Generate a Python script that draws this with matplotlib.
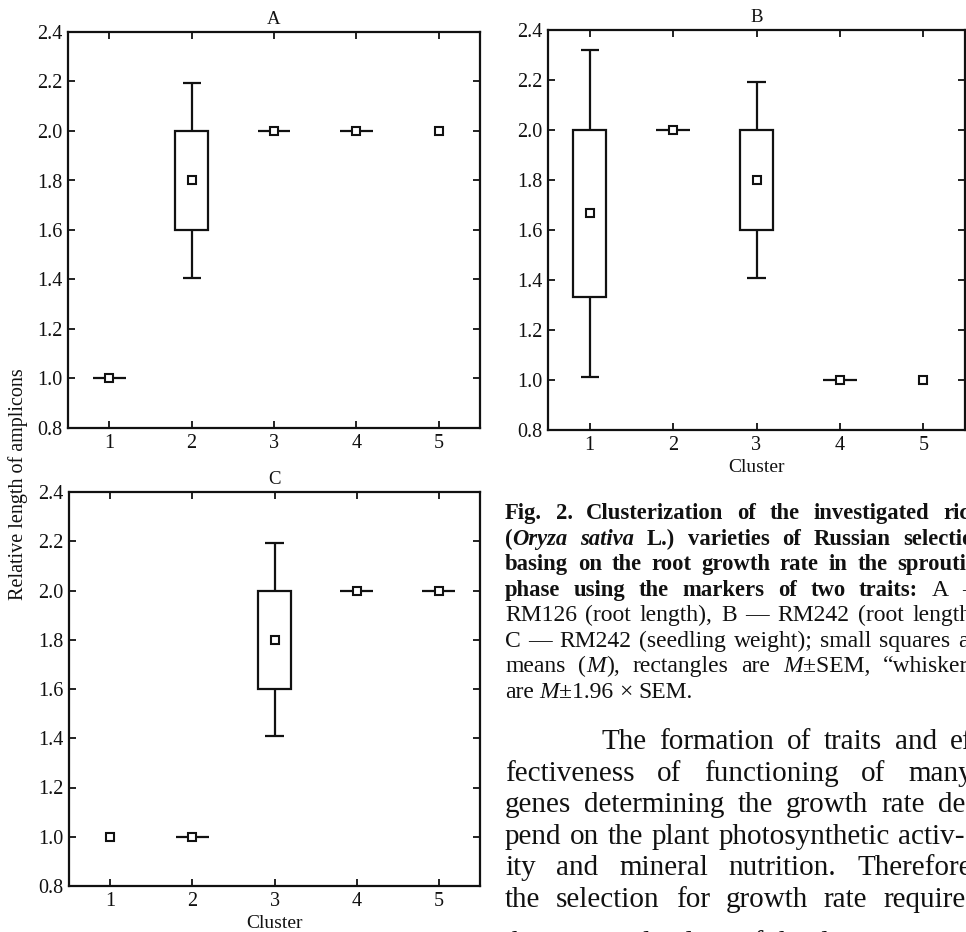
import numpy as np
import matplotlib
matplotlib.use("Agg")
import matplotlib.pyplot as plt
from matplotlib.ticker import FormatStrFormatter

plt.rcParams["font.family"] = ["Liberation Serif", "DejaVu Serif"]

nan = np.nan
clusters = [1, 2, 3, 4, 5]

# A - RM126 (root length)
a_mean = [1.0, 1.8, 2.0, 2.0, 2.0]
a_box_lo = [1.0, 1.6, 2.0, 2.0, nan]
a_box_hi = [1.0, 2.0, 2.0, 2.0, nan]
a_whisk_lo = [1.0, 1.408, 2.0, 2.0, nan]
a_whisk_hi = [1.0, 2.192, 2.0, 2.0, nan]

# B - RM242 (root length)
b_mean = [1.667, 2.0, 1.8, 1.0, 1.0]
b_box_lo = [1.333, 2.0, 1.6, 1.0, nan]
b_box_hi = [2.0, 2.0, 2.0, 1.0, nan]
b_whisk_lo = [1.013, 2.0, 1.408, 1.0, nan]
b_whisk_hi = [2.32, 2.0, 2.192, 1.0, nan]

# C - RM242 (seedling weight)
c_mean = [1.0, 1.0, 1.8, 2.0, 2.0]
c_box_lo = [nan, 1.0, 1.6, 2.0, 2.0]
c_box_hi = [nan, 1.0, 2.0, 2.0, 2.0]
c_whisk_lo = [nan, 1.0, 1.408, 2.0, 2.0]
c_whisk_hi = [nan, 1.0, 2.192, 2.0, 2.0]

y_ticks = [0.8, 1.0, 1.2, 1.4, 1.6, 1.8, 2.0, 2.2, 2.4]

INK = "#111111"
W, H = 966, 932


def px(x, y):
    return x / W, 1 - y / H


def draw_panel(ax, title, mean, lo, hi, wlo, whi, xlabel=None):
    for x, m, l, h, wl, wh in zip(clusters, mean, lo, hi, wlo, whi):
        if np.isfinite(l):
            ax.bar(x, h - l, bottom=l, width=0.4, fill=False, edgecolor=INK,
                   linewidth=1.6, zorder=2)
            ax.vlines(x, h, wh, color=INK, linewidth=1.6, zorder=2)
            ax.vlines(x, wl, l, color=INK, linewidth=1.6, zorder=2)
            if wh > h:
                ax.hlines([wl, wh], x - 0.11, x + 0.11, color=INK, linewidth=1.6, zorder=2)
        ax.plot(x, m, marker="s", markersize=5.5, markerfacecolor="white",
                markeredgecolor=INK, markeredgewidth=1.5, zorder=3)
    ax.set_xlim(0.5, 5.5)
    ax.set_ylim(0.8, 2.4)
    ax.set_xticks(clusters)
    ax.set_yticks(y_ticks)
    ax.yaxis.set_major_formatter(FormatStrFormatter("%.1f"))
    ax.tick_params(direction="in", top=True, right=True, length=5, width=1.3,
                   labelsize=14.5, pad=4, colors=INK)
    for sp in ax.spines.values():
        sp.set_linewidth(1.6)
        sp.set_color(INK)
    ax.set_title(title, fontsize=13.5, pad=6, color=INK)
    if xlabel:
        ax.set_xlabel(xlabel, fontsize=14, labelpad=3, color=INK)


fig = plt.figure(figsize=(W / 100, H / 100), dpi=100)
axA = fig.add_axes([68 / W, 1 - 428 / H, 412 / W, 396 / H])
axB = fig.add_axes([548 / W, 1 - 430 / H, 417 / W, 400 / H])
axC = fig.add_axes([69 / W, 1 - 886 / H, 411 / W, 394 / H])

draw_panel(axA, "A", a_mean, a_box_lo, a_box_hi, a_whisk_lo, a_whisk_hi)
draw_panel(axB, "B", b_mean, b_box_lo, b_box_hi, b_whisk_lo, b_whisk_hi, "Cluster")
draw_panel(axC, "C", c_mean, c_box_lo, c_box_hi, c_whisk_lo, c_whisk_hi, "Cluster")

fig.text(*px(18, 484), "Relative length of amplicons", rotation=90, fontsize=14.5,
         ha="center", va="center", color=INK)

# caption and body text, justified word by word
# style key -> (weight, style, size)
STYLES = {"b": ("bold", "normal", 16.3), "bi": ("bold", "italic", 16.3),
          "r": ("normal", "normal", 17), "i": ("normal", "italic", 17),
          "t": ("normal", "normal", 21)}

caption = [
    (["Fig.", "2.", "Clusterization", "of", "the", "investigated", "rice"], "b", 505, 943),
    ([[("(", "b"), ("Oryza", "bi")], [("sativa", "bi")], "L.)", "varieties", "of",
      "Russian", "selection"], "b", 505, 903),
    (["basing", "on", "the", "root", "growth", "rate", "in", "the", "sprouting"], "b", 505, 897),
    (["phase", "using", "the", "markers", "of", "two", "traits:", [("A", "r")],
      [("\u2014", "r")]], "b", 505, 962),
    (["RM126", "(root", "length),", "B", "\u2014", "RM242", "(root", "length),"], "r", 505, 912),
    (["C", "\u2014", "RM242", "(seedling", "weight);", "small", "squares", "are"], "r", 505, 958),
    (["means", [("(", "r"), ("M", "i"), ("),", "r")], "rectangles", "are",
      [("M", "i"), ("\u00b1SEM,", "r")], "\u201cwhiskers\u201d"], "r", 505, 883),
    (["are", [("M", "i"), ("\u00b11.96", "r")], "\u00d7", "SEM."], "r", 505, None),
]
caption_y = [519 + 25.57 * i for i in range(len(caption))]

body = [
    (["The", "formation", "of", "traits", "and", "ef-"], "t", 601, 950),
    (["fectiveness", "of", "functioning", "of", "many"], "t", 505, 908),
    (["genes", "determining", "the", "growth", "rate", "de-"], "t", 505, 938),
    (["pend", "on", "the", "plant", "photosynthetic", "activ-"], "t", 505, 898),
    (["ity", "and", "mineral", "nutrition.", "Therefore,"], "t", 505, 857),
    (["the", "selection", "for", "growth", "rate", "requires"], "t", 505, 883),
    (["the", "expected", "values", "of", "the", "design"], "t", 505, None),
]
body_y = [749, 780.6, 812.2, 843.8, 875.4, 907, 951]

renderer = fig.canvas.get_renderer()


def set_line(words, style, x0, x1, y):
    made = []
    for w in words:
        segs = w if isinstance(w, list) else [(w, style)]
        arts = []
        for txt, st in segs:
            weight, fstyle, size = STYLES[st]
            t = fig.text(0, 0, txt, fontsize=size, fontweight=weight, fontstyle=fstyle,
                         ha="left", va="baseline", color=INK)
            arts.append((t, t.get_window_extent(renderer).width))
        made.append(arts)
    widths = [sum(wd for _, wd in arts) for arts in made]
    if x1 is None:
        gap = 0.25 * STYLES[style][2] * 100 / 72
    else:
        gap = (x1 - x0 - sum(widths[:-1])) / (len(words) - 1)
    x = x0
    for arts, wd in zip(made, widths):
        xs = x
        for t, sw in arts:
            t.set_position(px(xs, y))
            xs += sw
        x += wd + gap


for (words, style, x0, x1), y in zip(caption, caption_y):
    set_line(words, style, x0, x1, y)

for (words, style, x0, x1), y in zip(body, body_y):
    set_line(words, style, x0, x1, y)

fig.savefig("out.png", dpi=100)
